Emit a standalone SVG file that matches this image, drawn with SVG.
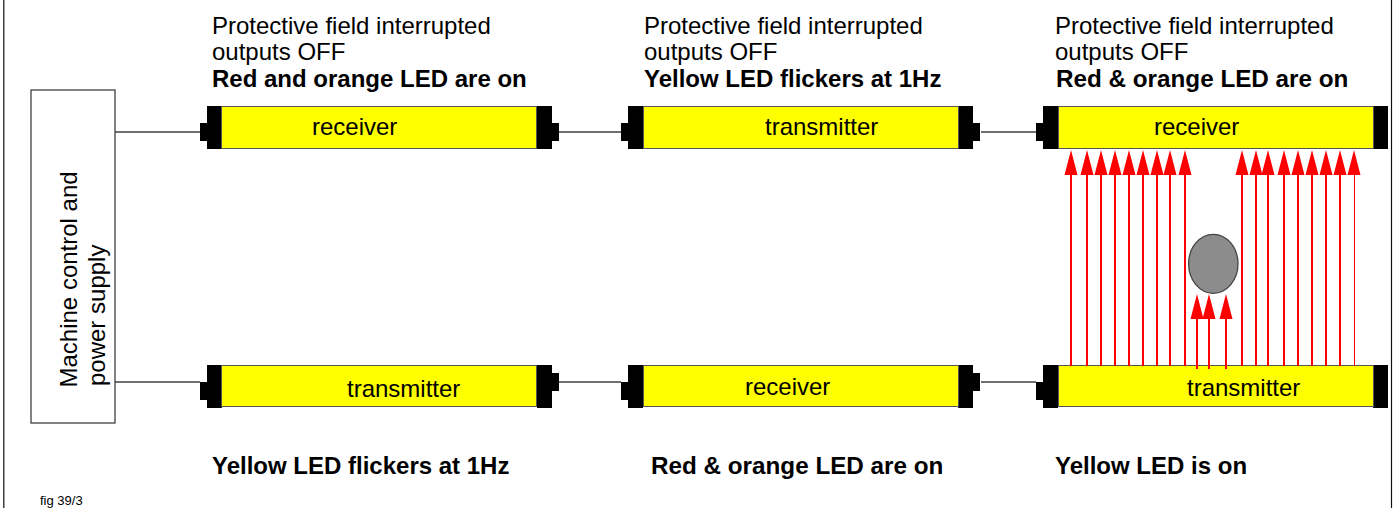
<svg xmlns="http://www.w3.org/2000/svg" width="1394" height="508" viewBox="0 0 1394 508">
<defs>
<style>
text{font-family:"Liberation Sans",Arial,sans-serif;fill:#000}
.t{font-size:24px}
.b{font-size:24px;font-weight:bold}
.a{font-size:24.250px;font-weight:bold}
.l{font-size:24px}
.w{stroke:#404040;stroke-width:1.3;fill:none}
.y{fill:#ff0;stroke:#555;stroke-width:1}
.k{fill:#000}
.r{stroke:#f00;stroke-width:2;fill:none}
</style>
<g id="bar"><rect class="k" x="-7" y="17" width="8" height="18"/><rect class="k" x="0" y="0" width="15" height="43"/><rect class="k" x="330" y="0" width="15" height="43"/></g>
<rect id="stub" class="k" width="7" height="18"/>
</defs>
<path d="M3.800 0V508M1391.500 0V508" stroke="#111" stroke-width="1.200" fill="none"/>
<g id="connectors">
<path class="w" d="M115 132H200M559 132H621M981 132H1036M115 382H200M559 382H621M981 382H1036"/>
</g>
<g id="machine"><rect x="31" y="90" width="84" height="333" fill="#fff" stroke="#404040" stroke-width="1.300"/>
<text class="l" transform="translate(77,387.500) rotate(-90)">Machine control and</text>
<text class="l" transform="translate(105,386) rotate(-90)">power supply</text></g>
<g id="n1"><use href="#bar" x="207" y="106"/><use href="#stub" x="552" y="123"/><rect class="y" x="221.500" y="106.500" width="315" height="42"/><text class="l" x="312" y="135">receiver</text></g>
<g id="n2"><use href="#bar" x="628" y="106"/><use href="#stub" x="973" y="123"/><rect class="y" x="643.500" y="106.500" width="315" height="42"/><text class="l" x="765" y="135">transmitter</text></g>
<g id="n3"><use href="#bar" x="1043" y="106"/><rect class="y" x="1058.500" y="106.500" width="315" height="42"/><text class="l" x="1154" y="135">receiver</text></g>
<g id="n4"><use href="#bar" x="207" y="365"/><use href="#stub" x="552" y="373"/><rect class="y" x="221.500" y="365.500" width="315" height="41"/><text class="l" x="347" y="397">transmitter</text></g>
<g id="n5"><use href="#bar" x="628" y="365"/><use href="#stub" x="973" y="373"/><rect class="y" x="643.500" y="365.500" width="315" height="41"/><text class="l" x="745" y="395">receiver</text></g>
<g id="n6"><use href="#bar" x="1043" y="365"/><rect class="y" x="1058.500" y="365.500" width="315" height="41"/><text class="l" x="1187" y="396">transmitter</text></g>
<g id="beams">
<path class="r" d="M1071 366V163M1087 366V163M1101 366V163M1115 366V163M1129 366V163M1143 366V163M1157 366V163M1170 366V163M1185 366V163M1242 366V163M1256 366V163M1268 366V163M1284 366V163M1298 366V163M1312 366V163M1326 366V163M1340 366V163"/>
<path d="M1354.500 366V163" stroke="#f00" fill="none"/>
<path class="r" d="M1197 369V307M1209 369V307M1226 369V307"/>
<path fill="#f00" d="M1071 150l6.500 25h-13zM1087 150l6.500 25h-13zM1101 150l6.500 25h-13zM1115 150l6.500 25h-13zM1129 150l6.500 25h-13zM1143 150l6.500 25h-13zM1157 150l6.500 25h-13zM1170 150l6.500 25h-13zM1185 150l6.500 25h-13zM1242 150l6.500 25h-13zM1256 150l6.500 25h-13zM1268 150l6.500 25h-13zM1284 150l6.500 25h-13zM1298 150l6.500 25h-13zM1312 150l6.500 25h-13zM1326 150l6.500 25h-13zM1340 150l6.500 25h-13zM1354 150l6.500 25h-13zM1197 294l6.500 25h-13zM1209 294l6.500 25h-13zM1226 294l6.500 25h-13z"/>
</g>
<g id="object"><ellipse cx="1213.300" cy="263.800" rx="24.700" ry="29.500" fill="#8c8c8c" stroke="#444" stroke-width="1.300"/></g>
<g id="labels">
<text class="t" x="212" y="34">Protective field interrupted</text><text class="t" x="212" y="60">outputs OFF</text><text class="b" x="212" y="87">Red and orange LED are on</text>
<text class="t" x="644" y="34">Protective field interrupted</text><text class="t" x="644" y="60">outputs OFF</text><text class="b" x="644" y="87">Yellow LED flickers at 1Hz</text>
<text class="t" x="1055" y="34">Protective field interrupted</text><text class="t" x="1055" y="60">outputs OFF</text><text class="a" x="1056" y="87">Red &amp; orange LED are on</text>
<text class="b" x="212" y="474">Yellow LED flickers at 1Hz</text><text class="a" x="651" y="474">Red &amp; orange LED are on</text><text class="b" x="1055" y="474">Yellow LED is on</text>
<text x="40" y="505" font-size="13px">fig 39/3</text>
</g>
</svg>
